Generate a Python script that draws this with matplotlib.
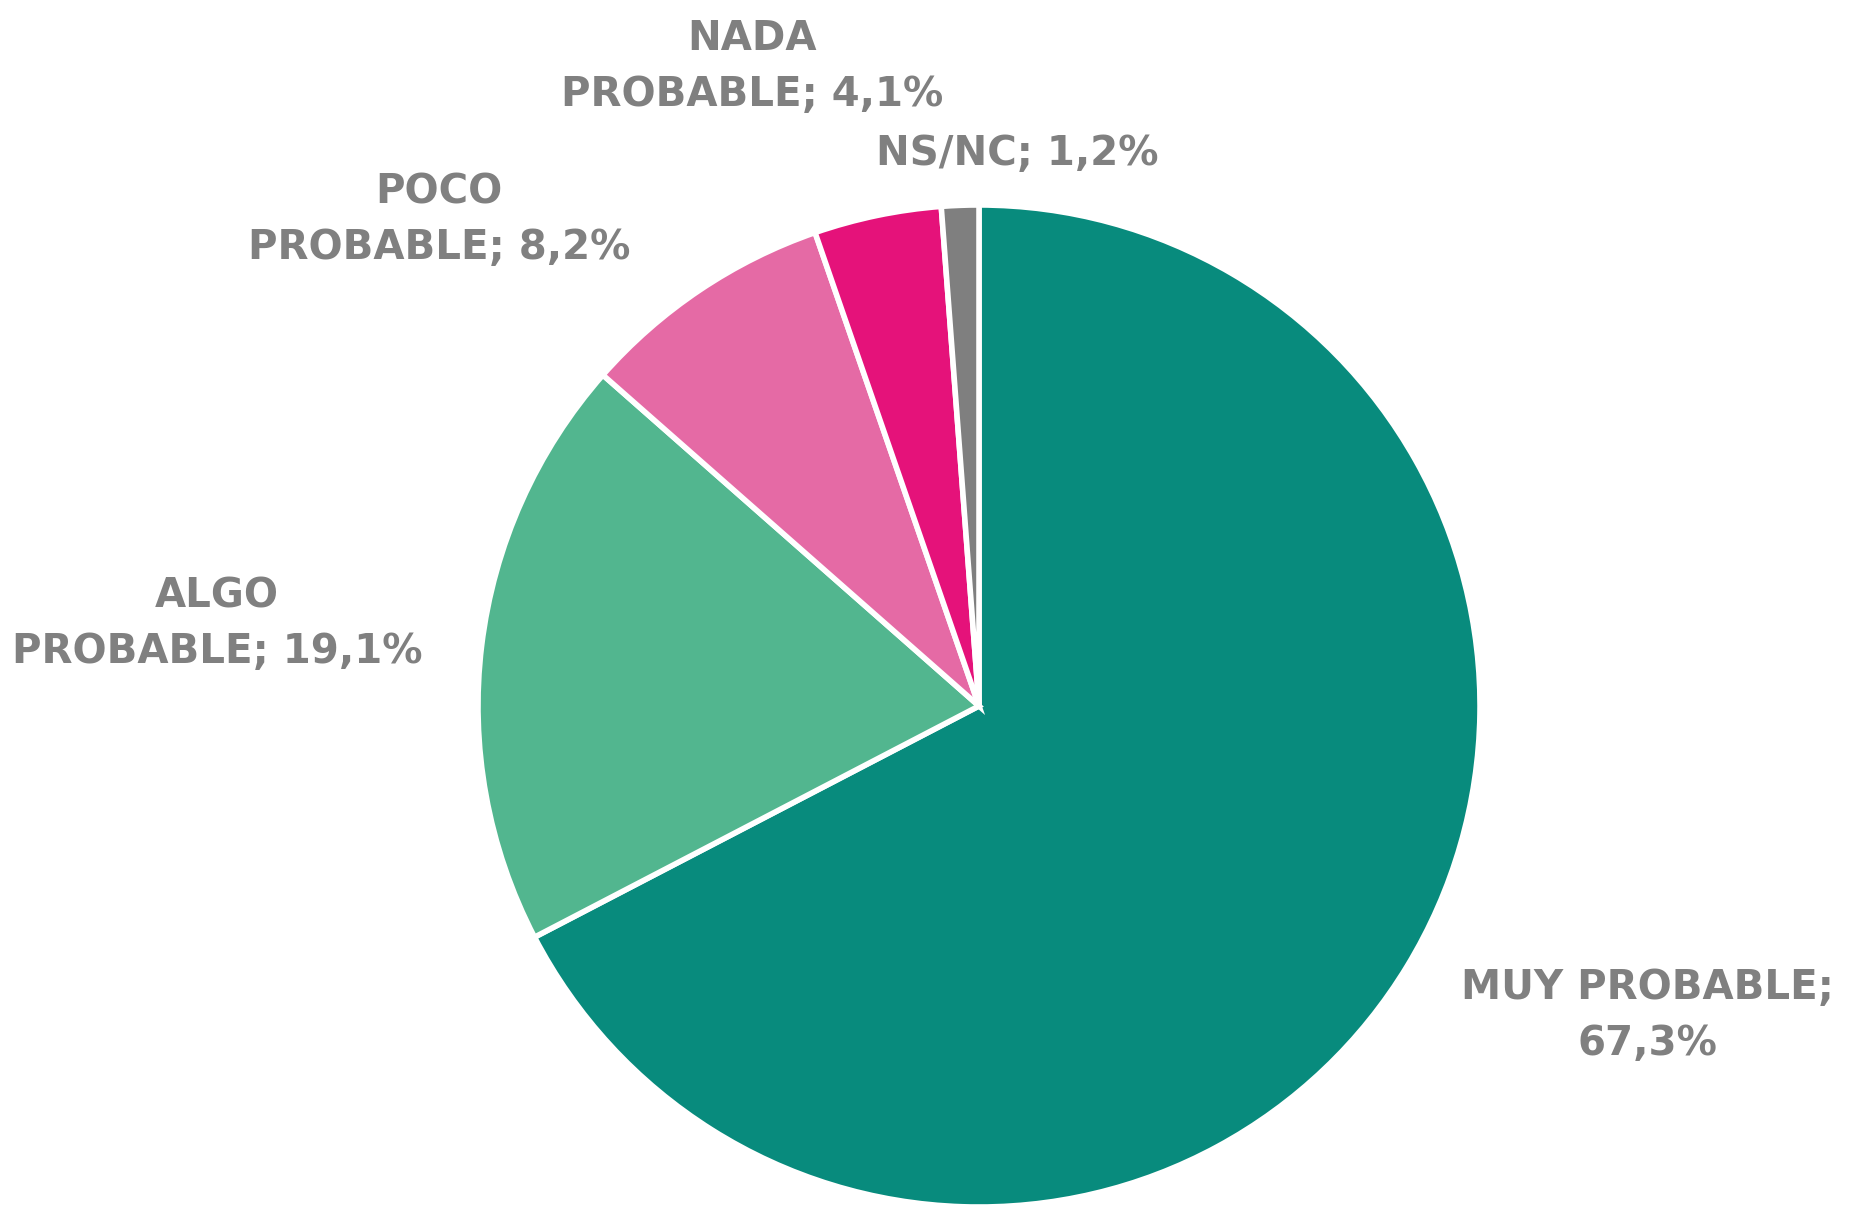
import matplotlib
matplotlib.use("Agg")
import matplotlib.pyplot as plt

# data
labels = ["MUY PROBABLE;\n67,3%", "ALGO\nPROBABLE; 19,1%", "POCO\nPROBABLE; 8,2%",
          "NADA\nPROBABLE; 4,1%", "NS/NC; 1,2%"]
values = [67.3, 19.1, 8.2, 4.1, 1.2]
colors = ["#088B7D", "#52B68F", "#E56AA5", "#E5127A", "#7F7F7F"]

# label anchor spots (pixels, y up)
label_pos = [(1647, 190), (217, 582), (439, 986), (752, 1139), (1017, 1052)]

W, H = 1861, 1206
fig = plt.figure(figsize=(W / 100, H / 100), dpi=100)
ax = fig.add_axes([0, 0, 1, 1])
ax.set_xlim(0, W)
ax.set_ylim(0, H)
ax.set_aspect("equal")
ax.axis("off")

ax.pie(values, colors=colors, startangle=90, counterclock=False,
       center=(979, 500), radius=501,
       wedgeprops=dict(edgecolor="white", linewidth=4))

for txt, (x, y) in zip(labels, label_pos):
    ax.text(x, y, txt, ha="center", va="center", fontsize=29, fontweight="bold",
            color="#808080", family="DejaVu Sans", linespacing=1.5)

ax.set_xlim(0, W)
ax.set_ylim(0, H)
fig.savefig("out.png", dpi=100, facecolor="white")
